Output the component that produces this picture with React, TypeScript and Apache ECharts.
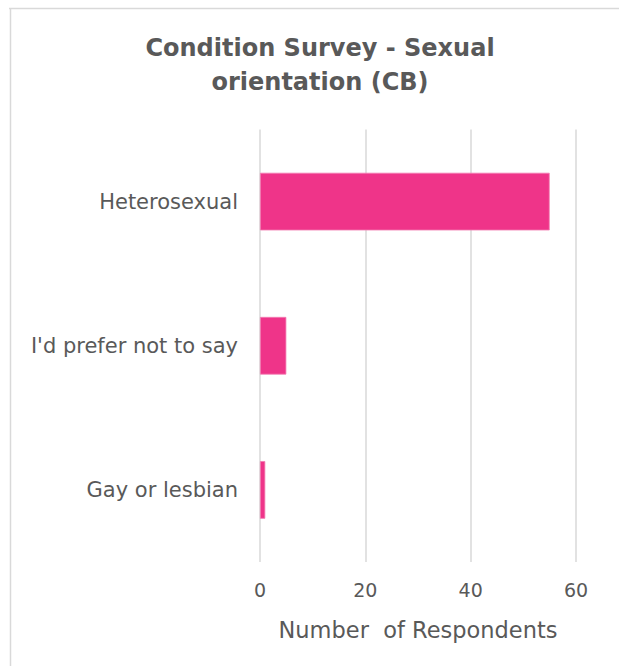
import React, { useEffect, useRef } from "react";
import * as echarts from "echarts";

const categories = ["Gay or lesbian", "I'd prefer not to say", "Heterosexual"];
const respondents = [1, 5, 55];
const xTicks = { min: 0, max: 60, interval: 20 };
const titleText = "Condition Survey - Sexual\norientation (CB)";
const xAxisName = "Number  of Respondents";

export default function App() {
  const ref = useRef<HTMLDivElement>(null);
  useEffect(() => {
    if (!ref.current) return;
    const chart = echarts.init(ref.current, null, { renderer: "svg" });
    const font = "'DejaVu Sans', sans-serif";
    chart.setOption({
      animation: false,
      backgroundColor: "#ffffff",
      title: {
        text: titleText,
        left: 315,
        top: 26,
        textAlign: "center",
        textStyle: {
          fontFamily: font,
          fontSize: 24,
          fontWeight: "bold",
          color: "#595959",
          lineHeight: 34,
        },
      },
      grid: { left: 260, right: 43, top: 129.5, bottom: 104, containLabel: false },
      xAxis: {
        type: "value",
        min: xTicks.min,
        max: xTicks.max,
        interval: xTicks.interval,
        name: xAxisName,
        nameLocation: "middle",
        nameGap: 56,
        nameTextStyle: { fontFamily: font, fontSize: 22.5, color: "#595959" },
        axisLine: { show: false },
        axisTick: { show: false },
        axisLabel: { fontFamily: font, fontSize: 19, color: "#595959", margin: 18 },
        splitLine: { show: true, lineStyle: { color: "#d9d9d9", width: 1.5 } },
      },
      yAxis: {
        type: "category",
        data: categories,
        axisLine: { show: false },
        axisTick: { show: false },
        axisLabel: { fontFamily: font, fontSize: 21, color: "#595959", margin: 22 },
      },
      series: [
        {
          type: "bar",
          data: respondents,
          barCategoryGap: "60%",
          itemStyle: { color: "#EF3489", borderColor: "#F37CB2", borderWidth: 0.8 },
        },
      ],
      graphic: [
        {
          type: "line",
          shape: { x1: 9, y1: 8.5, x2: 619, y2: 8.5 },
          style: { stroke: "#d9d9d9", lineWidth: 1.5 },
        },
        {
          type: "line",
          shape: { x1: 10.5, y1: 8, x2: 10.5, y2: 666 },
          style: { stroke: "#d9d9d9", lineWidth: 1.5 },
        },
      ],
    });
    return () => chart.dispose();
  }, []);
  return (
    <div
      ref={ref}
      style={{ position: "fixed", left: 0, top: 0, width: 619, height: 666 }}
    />
  );
}
